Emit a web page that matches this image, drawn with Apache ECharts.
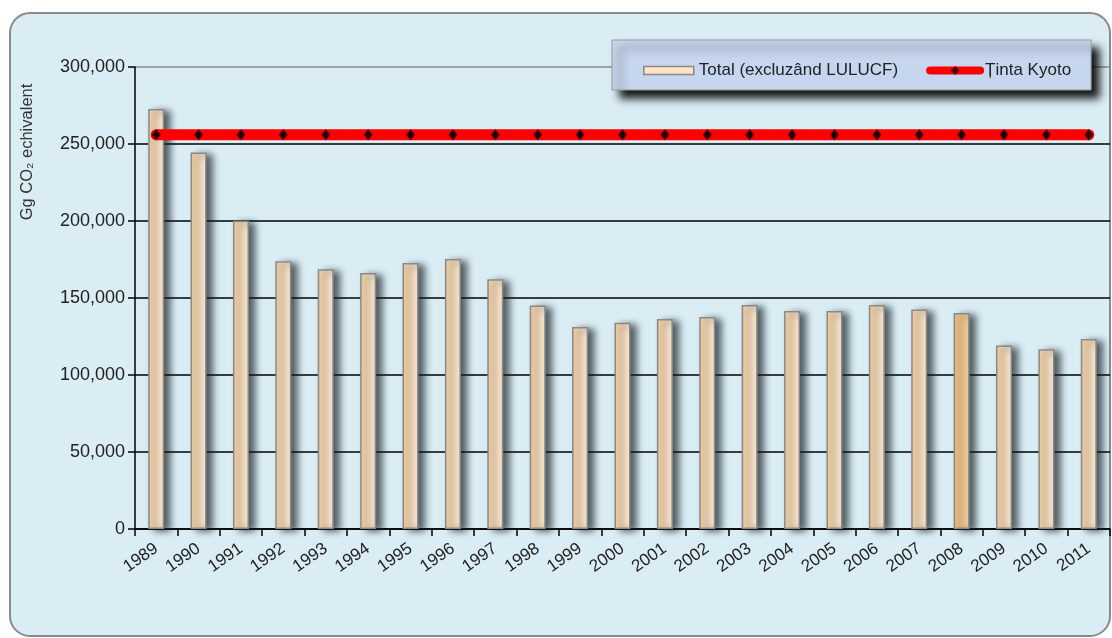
<!DOCTYPE html>
<html>
<head>
<meta charset="utf-8">
<script src="https://cdn.jsdelivr.net/npm/echarts@6/dist/echarts.min.js"></script>
<style>
html,body{margin:0;padding:0;background:#ffffff;}
#c{width:1112px;height:638px;}
</style>
</head>
<body>
<div id="c"></div>
<script>
var years = ['1989','1990','1991','1992','1993','1994','1995','1996','1997','1998','1999','2000','2001','2002','2003','2004','2005','2006','2007','2008','2009','2010','2011'];
var totalEmissions = [272700,244400,200100,173900,168700,166300,172800,175400,162200,145100,131100,133900,136300,137600,145400,141500,141500,145400,142500,140200,119100,116800,123300];
var kyotoTarget = [256000,256000,256000,256000,256000,256000,256000,256000,256000,256000,256000,256000,256000,256000,256000,256000,256000,256000,256000,256000,256000,256000,256000];
var yTicks = {min:0, max:300000, interval:50000};
var seriesNames = ['Total (excluzând LULUCF)','Ținta Kyoto'];
var yAxisName = 'Gg CO₂ echivalent';

var barFill = new echarts.graphic.LinearGradient(0,0,1,0,[
  {offset:0,color:'#f6cf9c'},{offset:0.6,color:'#f9dfc0'},{offset:1,color:'#fce8d2'}
]);
var barFill2008 = new echarts.graphic.LinearGradient(0,0,1,0,[
  {offset:0,color:'#f3c283'},{offset:1,color:'#f6cd98'}
]);

var barData = totalEmissions.map(function(v,i){
  if (years[i] === '2008') return {value:v, itemStyle:{color:barFill2008}};
  return v;
});

var chart = echarts.init(document.getElementById('c'));
var font = '"Liberation Sans", Arial, sans-serif';
chart.setOption({
  animation:false,
  backgroundColor:'#ffffff',
  textStyle:{fontFamily:font},
  graphic:[
    {type:'rect', z:-10, shape:{x:10,y:13,width:1100,height:623,r:20},
     style:{fill:'#daedf4', stroke:'#8a8a8a', lineWidth:2}},
    {type:'text', z:5, x:27, y:152, rotation:Math.PI/2,
     style:{text:yAxisName, fill:'#333', fontSize:16.5, fontFamily:font, textAlign:'center', textVerticalAlign:'middle'}}
  ],
  legend:{
    left:612, top:40,
    padding:[22,20,11,31],
    itemGap:28,
    itemWidth:50, itemHeight:8,
    backgroundColor:'#c6d6ee',
    borderColor:'#999', borderWidth:1,
    shadowColor:'rgba(0,0,0,0.9)', shadowBlur:8, shadowOffsetX:8, shadowOffsetY:8,
    textStyle:{color:'#222', fontSize:17, fontFamily:font},
    data:[
      {name:seriesNames[0], icon:'rect', itemStyle:{color:'#fce3c4', borderColor:'#888', borderWidth:1.5}},
      {name:seriesNames[1], lineStyle:{width:8, color:'#ff0000'}}
    ]
  },
  grid:{left:135, right:2, top:67, bottom:109, containLabel:false},
  xAxis:{
    type:'category', data:years, boundaryGap:true,
    axisLine:{lineStyle:{color:'#000', width:1.5}},
    axisTick:{show:true, length:7, lineStyle:{color:'#000', width:1.5}},
    axisLabel:{rotate:35, margin:18, color:'#222', fontSize:17, fontFamily:font, interval:0},
    splitLine:{show:false}
  },
  yAxis:{
    type:'value', min:yTicks.min, max:yTicks.max, interval:yTicks.interval,
    axisLine:{show:true, lineStyle:{color:'#000', width:1.5}},
    axisTick:{show:true, length:7, lineStyle:{color:'#000', width:1.5}},
    axisLabel:{margin:10, color:'#222', fontSize:18, fontFamily:font,
      formatter:function(v){return v.toLocaleString('en-US');}},
    splitLine:{show:true, lineStyle:{color:['#000','#000','#000','#000','#000','#000','#888'], width:1.5}}
  },
  series:[
    {
      name:seriesNames[0], type:'bar', data:barData, barWidth:16, z:2,
      itemStyle:{color:barFill, borderColor:'#8a8a8a', borderWidth:1.5,
        shadowColor:'rgba(20,30,35,0.7)', shadowBlur:7, shadowOffsetX:6, shadowOffsetY:2}
    },
    {
      name:seriesNames[1], type:'line', data:kyotoTarget, z:3,
      symbol:'diamond', symbolSize:[8,10], showSymbol:true,
      lineStyle:{color:'#ff0000', width:11, cap:'round'},
      itemStyle:{color:'#1a0000', borderColor:'#600', borderWidth:1}
    }
  ]
});
</script>
</body>
</html>
